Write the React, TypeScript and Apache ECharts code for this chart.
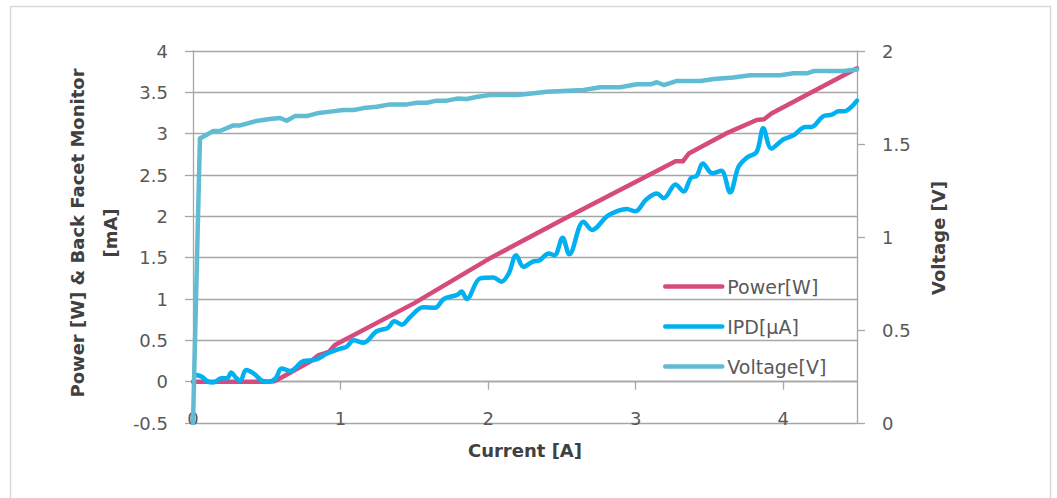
import React, { useEffect, useRef } from "react";
import * as echarts from "echarts";

const xTicks = [0, 1, 2, 3, 4];
const seriesNames = ["Power[W]", "IPD[µA]", "Voltage[V]"];

const powerX = [0, 0.1, 0.2, 0.3, 0.4, 0.5, 0.55, 0.6, 0.7, 0.8, 0.85, 0.88, 0.92, 0.96, 1.0, 1.5, 2.02, 2.5, 3.09, 3.27, 3.32, 3.36, 3.61, 3.82, 3.87, 3.92, 4.5];
const powerY = [0, 0, 0, 0, 0, 0, 0.005, 0.05, 0.15, 0.25, 0.32, 0.335, 0.36, 0.44, 0.48, 0.95, 1.5, 1.955, 2.5, 2.665, 2.665, 2.76, 3.0, 3.165, 3.175, 3.245, 3.79];

const ipdX = [0.02, 0.06, 0.1, 0.14, 0.19, 0.23, 0.26, 0.29, 0.32, 0.36, 0.41, 0.47, 0.51, 0.56, 0.6, 0.66, 0.75, 0.82, 0.91, 1.0, 1.04, 1.09, 1.155, 1.245, 1.32, 1.365, 1.415, 1.47, 1.56, 1.64, 1.7, 1.79, 1.82, 1.855, 1.946, 2.036, 2.09, 2.14, 2.19, 2.24, 2.3, 2.35, 2.41, 2.45, 2.505, 2.55, 2.646, 2.705, 2.805, 2.884, 2.94, 2.997, 3.07, 3.144, 3.19, 3.27, 3.324, 3.375, 3.414, 3.455, 3.52, 3.58, 3.64, 3.697, 3.753, 3.82, 3.865, 3.92, 4.0, 4.07, 4.15, 4.19, 4.27, 4.33, 4.375, 4.41, 4.5];
const ipdY = [0.08, 0.06, 0.0, -0.01, 0.04, 0.04, 0.11, 0.05, 0.01, 0.14, 0.1, 0.01, 0.0, 0.04, 0.16, 0.13, 0.25, 0.26, 0.34, 0.4, 0.42, 0.5, 0.47, 0.61, 0.65, 0.73, 0.69, 0.78, 0.9, 0.895, 1.0, 1.05, 1.09, 1.0, 1.25, 1.26, 1.21, 1.31, 1.53, 1.39, 1.45, 1.47, 1.55, 1.53, 1.74, 1.54, 1.935, 1.835, 2.0, 2.07, 2.09, 2.06, 2.2, 2.275, 2.22, 2.385, 2.3, 2.465, 2.49, 2.64, 2.52, 2.55, 2.29, 2.6, 2.71, 2.78, 3.065, 2.82, 2.93, 2.98, 3.08, 3.08, 3.21, 3.23, 3.27, 3.27, 3.4];

const voltX = [0, 0.047, 0.138, 0.183, 0.273, 0.32, 0.43, 0.52, 0.59, 0.635, 0.69, 0.77, 0.84, 0.93, 1.02, 1.09, 1.155, 1.245, 1.336, 1.45, 1.517, 1.585, 1.652, 1.72, 1.79, 1.855, 1.92, 2.01, 2.2, 2.4, 2.647, 2.76, 2.895, 3.008, 3.1, 3.144, 3.19, 3.28, 3.44, 3.53, 3.66, 3.776, 3.98, 4.07, 4.16, 4.206, 4.41, 4.5];
const voltY = [0, 1.53, 1.57, 1.57, 1.6, 1.6, 1.624, 1.634, 1.64, 1.625, 1.65, 1.65, 1.665, 1.674, 1.683, 1.683, 1.693, 1.7, 1.713, 1.713, 1.722, 1.722, 1.733, 1.733, 1.744, 1.742, 1.753, 1.763, 1.763, 1.781, 1.79, 1.805, 1.805, 1.821, 1.821, 1.832, 1.817, 1.839, 1.839, 1.849, 1.858, 1.87, 1.87, 1.88, 1.88, 1.892, 1.892, 1.9];

const FONT = "'DejaVu Sans', 'Open Sans', sans-serif";
const AXIS_GRAY = "#a6a6a6";
const LABEL_GRAY = "#595959";
const TITLE_DARK = "#404040";
const LINE_W = 4.5;

const pairs = (xs: number[], ys: number[]) => xs.map((x, i) => [x, ys[i]]);

export default function App() {
  const ref = useRef<HTMLDivElement>(null);
  useEffect(() => {
    const chart = echarts.init(ref.current!, null, { renderer: "svg" });
    const titleStyle = (text: string) => ({
      text,
      font: `bold 18px ${FONT}`,
      fill: TITLE_DARK,
      align: "center",
      verticalAlign: "middle",
      textAlign: "center",
      textVerticalAlign: "middle",
    });
    const tickLabel = { fontSize: 18, color: LABEL_GRAY, fontFamily: FONT };
    chart.setOption({
      animation: false,
      backgroundColor: "#ffffff",
      grid: { left: 193, right: 200, top: 51, bottom: 75, containLabel: false },
      legend: {
        data: seriesNames,
        orient: "vertical",
        left: 663,
        top: 277,
        itemWidth: 57,
        itemHeight: 14,
        itemGap: 21,
        padding: 0,
        itemStyle: { color: "transparent", borderWidth: 0, opacity: 0 },
        lineStyle: { width: LINE_W, cap: "round" },
        textStyle: { fontSize: 19, color: LABEL_GRAY, fontFamily: FONT },
      },
      xAxis: {
        type: "value",
        min: 0,
        max: 4.5,
        axisLine: { onZero: true, lineStyle: { color: AXIS_GRAY, width: 1.3 } },
        axisTick: { show: true, length: 8, customValues: xTicks, lineStyle: { color: AXIS_GRAY, width: 1.3 } },
        axisLabel: { customValues: xTicks, margin: -14, ...tickLabel },
        splitLine: { show: false },
      },
      yAxis: [
        {
          type: "value",
          min: -0.5,
          max: 4,
          interval: 0.5,
          position: "left",
          axisLine: { show: true, onZero: false, lineStyle: { color: AXIS_GRAY, width: 1.3 } },
          axisTick: { show: true, length: 8, lineStyle: { color: AXIS_GRAY, width: 1.3 } },
          axisLabel: { margin: 25, ...tickLabel },
          splitLine: { show: true, lineStyle: { color: AXIS_GRAY, width: 1.3 } },
        },
        {
          type: "value",
          min: 0,
          max: 2,
          interval: 0.5,
          position: "right",
          axisLine: { show: true, onZero: false, lineStyle: { color: AXIS_GRAY, width: 1.3 } },
          axisTick: { show: true, length: 8, lineStyle: { color: AXIS_GRAY, width: 1.3 } },
          axisLabel: { margin: 25, ...tickLabel },
          splitLine: { show: false },
        },
      ],
      series: [
        {
          name: seriesNames[0],
          type: "line",
          yAxisIndex: 0,
          data: pairs(powerX, powerY),
          symbol: "none",
          smooth: false,
          color: "#d64b7e",
          lineStyle: { width: LINE_W, color: "#d64b7e", cap: "round", join: "round" },
        },
        {
          name: seriesNames[1],
          type: "line",
          yAxisIndex: 0,
          data: pairs(ipdX, ipdY),
          symbol: "none",
          smooth: 0.35,
          color: "#00b0f0",
          lineStyle: { width: LINE_W, color: "#00b0f0", cap: "round", join: "round" },
        },
        {
          name: seriesNames[2],
          type: "line",
          yAxisIndex: 1,
          data: pairs(voltX, voltY),
          symbol: "none",
          smooth: false,
          color: "#5fbcd3",
          lineStyle: { width: LINE_W, color: "#5fbcd3", cap: "round", join: "round" },
        },
      ],
      graphic: [
        {
          type: "rect",
          shape: { x: 10.5, y: 6.5, width: 1040, height: 520 },
          style: { fill: "none", stroke: "#d9d9d9", lineWidth: 1.5 },
          silent: true,
          z: -10,
        },
        { type: "text", x: 77, y: 233, rotation: Math.PI / 2, style: titleStyle("Power [W] & Back Facet Monitor") },
        { type: "text", x: 110, y: 233, rotation: Math.PI / 2, style: titleStyle("[mA]") },
        { type: "text", x: 938, y: 238, rotation: Math.PI / 2, style: titleStyle("Voltage [V]") },
        { type: "text", x: 525, y: 450, style: titleStyle("Current [A]") },
      ],
    });
    return () => chart.dispose();
  }, []);
  return <div ref={ref} style={{ position: "fixed", left: 0, top: 0, width: 1057, height: 498 }} />;
}
